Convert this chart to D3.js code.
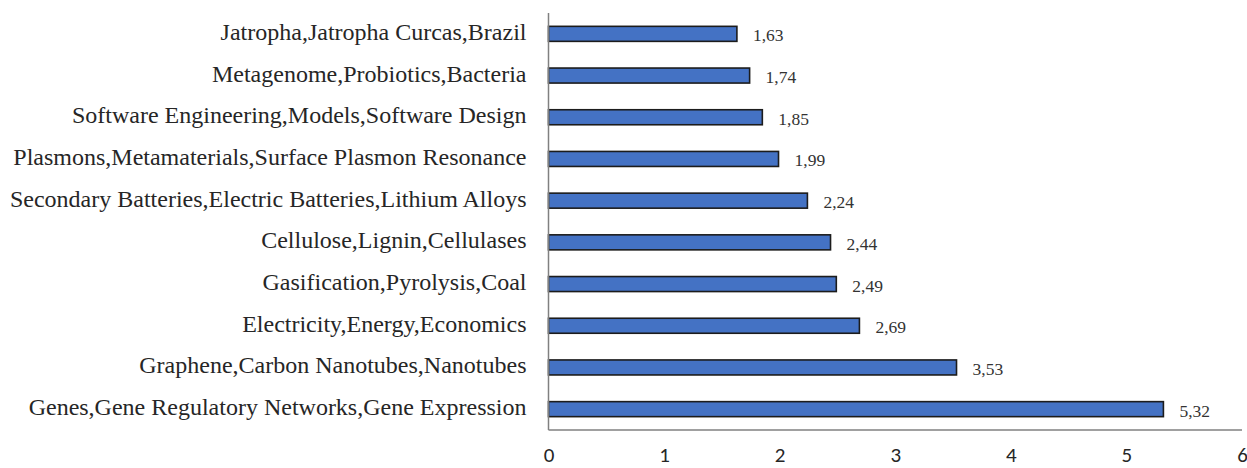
<!DOCTYPE html>
<html>
<head>
<meta charset="utf-8">
<script src="https://cdn.jsdelivr.net/npm/d3@7"></script>
<style>
  html, body { margin: 0; padding: 0; background: #fff; }
  svg { display: block; }
</style>
</head>
<body>
<svg id="chart" width="1247" height="468"></svg>
<script>
// Topic clusters and their scores, top to bottom
const categories = [
  "Jatropha,Jatropha Curcas,Brazil",
  "Metagenome,Probiotics,Bacteria",
  "Software Engineering,Models,Software Design",
  "Plasmons,Metamaterials,Surface Plasmon Resonance",
  "Secondary Batteries,Electric Batteries,Lithium Alloys",
  "Cellulose,Lignin,Cellulases",
  "Gasification,Pyrolysis,Coal",
  "Electricity,Energy,Economics",
  "Graphene,Carbon Nanotubes,Nanotubes",
  "Genes,Gene Regulatory Networks,Gene Expression"
];
const values = [1.63, 1.74, 1.85, 1.99, 2.24, 2.44, 2.49, 2.69, 3.53, 5.32];
const valueLabels = ["1,63", "1,74", "1,85", "1,99", "2,24", "2,44", "2,49", "2,69", "3,53", "5,32"];
const xTicks = [0, 1, 2, 3, 4, 5, 6];

const svg = d3.select("#chart");
const plot = { left: 548.5, right: 1242, top: 13, bottom: 430 };
const serif = "'Liberation Serif', 'Times New Roman', serif";

const x = d3.scaleLinear().domain([0, 6]).range([plot.left, plot.right]);
const y = d3.scaleBand().domain(categories).range([plot.top, plot.bottom]).paddingInner(0.64).paddingOuter(0.32);

// Bars
svg.append("g").selectAll("rect")
  .data(values)
  .join("rect")
  .attr("x", x(0))
  .attr("y", (d, i) => y(categories[i]))
  .attr("width", d => x(d) - x(0))
  .attr("height", y.bandwidth())
  .attr("fill", "#4472C4")
  .attr("stroke", "#1c1c1c")
  .attr("stroke-width", 1.6);

// Value labels
svg.append("g").selectAll("text")
  .data(values)
  .join("text")
  .attr("x", d => x(d) + 16)
  .attr("y", (d, i) => y(categories[i]) + y.bandwidth() / 2)
  .attr("dy", "0.43em")
  .attr("font-family", serif)
  .attr("font-size", 17.5)
  .attr("fill", "#333")
  .text((d, i) => valueLabels[i]);

// Category axis
const yAxis = svg.append("g")
  .attr("transform", `translate(${plot.left},0)`)
  .call(d3.axisLeft(y).tickSize(0).tickPadding(22));
yAxis.select(".domain").attr("stroke", "#808080").attr("stroke-width", 1.5)
  .attr("d", `M0,${plot.top}V${plot.bottom}`);
yAxis.selectAll("text")
  .attr("dy", "0.25em")
  .attr("font-family", serif)
  .attr("font-size", 24)
  .attr("fill", "#262626");

// Value axis
const xAxis = svg.append("g")
  .attr("transform", `translate(0,${plot.bottom})`)
  .call(d3.axisBottom(x).tickValues(xTicks).tickFormat(d3.format("d")).tickSize(0));
xAxis.select(".domain").attr("stroke", "#808080").attr("stroke-width", 1.5)
  .attr("d", `M${plot.left},0H${plot.right}`);
xAxis.selectAll("text")
  .attr("y", 32)
  .attr("dy", 0)
  .attr("font-family", "Carlito, Calibri, 'Liberation Sans', sans-serif")
  .attr("font-size", 21)
  .attr("fill", "#262626");
</script>
</body>
</html>
